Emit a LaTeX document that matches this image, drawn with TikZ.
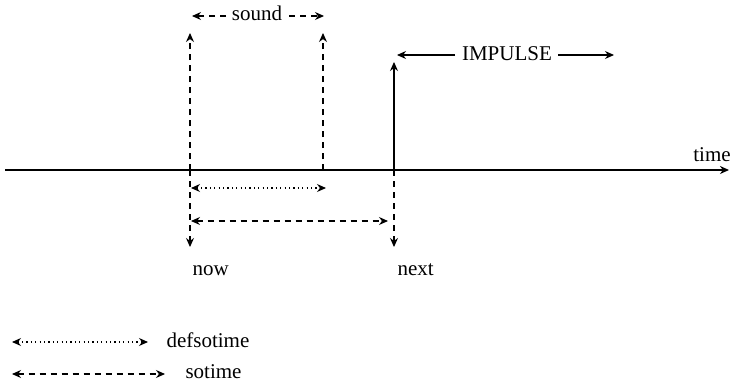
\documentclass[tikz,border=0pt]{standalone}
\usepackage{fontspec}
\setmainfont{Liberation Serif}
\usetikzlibrary{arrows.meta}
\begin{document}
\begin{tikzpicture}[x=0.5pt,y=-0.5pt,
  every node/.style={font=\fontsize{10.5}{12}\selectfont, inner sep=0pt},
  tip/.style={-{Stealth[length=4.5pt,width=4pt]}},
  dtip/.style={{Stealth[length=4.5pt,width=4pt]}-{Stealth[length=4.5pt,width=4pt]}},
  dsh/.style={dash pattern=on 3pt off 2.5pt},
  dot/.style={dash pattern=on 0.6pt off 1.6pt},
  line width=0.55pt]
\useasboundingbox (0,0) rectangle (730,381);
% axis
\coordinate (a0) at (5,170);
\coordinate (a1) at (729,170);
\draw[tip, line width=0.75pt] (a0) -- (a1);
\node[anchor=base] (time) at (712,161) {time};
% key points on axis
\coordinate (now) at (190,170);
\coordinate (snd) at (323,170);
\coordinate (nxt) at (394,170);
\coordinate (nowtop) at (190,33);
\coordinate (sndtop) at (323,33);
\coordinate (nxttop) at (394,62);
\coordinate (nowbot) at (190,247);
\coordinate (nxtbot) at (394,247);
\draw[tip, dsh] (now) -- (nowtop);
\draw[tip, dsh] (now) -- (nowbot);
\draw[tip, dsh] (snd) -- (sndtop);
\draw[tip] (nxt) -- (nxttop);
\draw[tip, dsh] (nxt) -- (nxtbot);
% sound label
\node[anchor=base] (sound) at (257,20) {sound};
\coordinate (s0) at (192,16);
\coordinate (sw) at (226,16);
\coordinate (se) at (289,16);
\coordinate (s1) at (324,16);
\draw[tip, dsh] (sw) -- (s0);
\draw[tip, dsh] (se) -- (s1);
% impulse label
\node[anchor=base] (imp) at (507,60) {IMPULSE};
\coordinate (i0) at (397,55);
\coordinate (iw) at (455,55);
\coordinate (ie) at (558,55);
\coordinate (i1) at (614,55);
\draw[tip] (iw) -- (i0);
\draw[tip] (ie) -- (i1);
% intervals
\coordinate (d0) at (191,188);
\coordinate (d1) at (326,188);
\draw[dtip, dot] (d0) -- (d1);
\coordinate (e0) at (191,221);
\coordinate (e1) at (388,221);
\draw[dtip, dsh] (e0) -- (e1);
% labels
\node[anchor=base west] (nowl) at (192,275) {now};
\node[anchor=base west] (nxtl) at (397,275) {next};
% legend
\coordinate (l0) at (12,342);
\coordinate (l1) at (148,342);
\draw[dtip, dot] (l0) -- (l1);
\node[anchor=base west] (defs) at (166,347) {defsotime};
\coordinate (m0) at (12,374);
\coordinate (m1) at (165,374);
\draw[dtip, dsh] (m0) -- (m1);
\node[anchor=base west] (sot) at (185,378) {sotime};
\end{tikzpicture}
\end{document}
